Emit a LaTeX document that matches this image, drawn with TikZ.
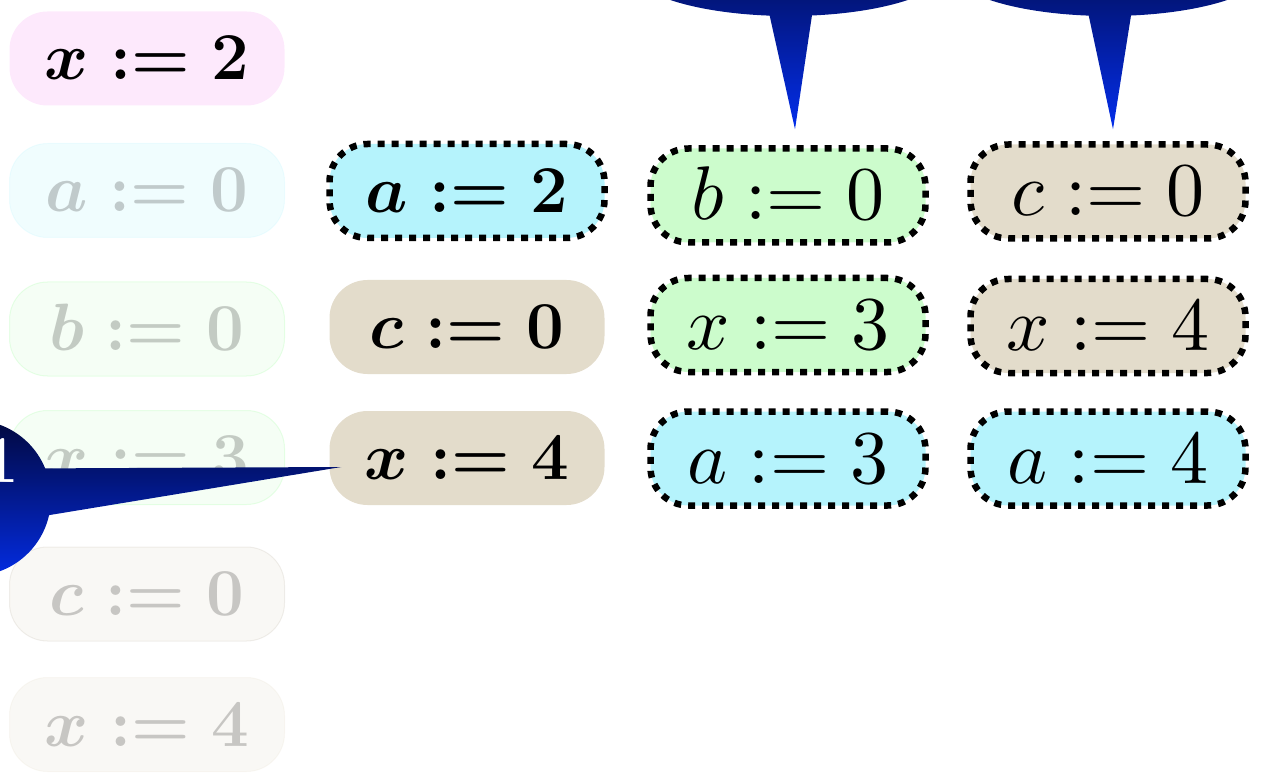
\documentclass[tikz,border=0pt]{standalone}
\usepackage{fix-cm}
\usepackage{graphicx}
\usetikzlibrary{shapes.callouts,calc}
\definecolor{cyanF}{RGB}{181,243,252}
\definecolor{greenF}{RGB}{204,252,204}
\definecolor{tanF}{RGB}{227,220,203}
\definecolor{pinkF}{RGB}{253,233,252}
\definecolor{calTop}{RGB}{2,6,52}
\definecolor{calBot}{RGB}{3,46,236}
\newcommand{\regtext}[1]{\scalebox{7.6}{\fontsize{10}{12}\selectfont$#1$}}
\tikzset{
  asg/.style={rounded corners=38pt, minimum width=275pt, minimum height=94pt,
    inner sep=0pt, text height=43pt, text depth=0pt,
    font=\fontsize{67}{80}\selectfont\boldmath},
  asgr/.style={asg, text height=49pt, font=\unboldmath},
  dottedbox/.style={draw=black, line width=6.5pt, dash pattern=on 7pt off 7pt},
  faded/.style={opacity=0.2, line width=1pt},
  fcyan/.style={fill=cyanF},
  fgreen/.style={fill=greenF},
  ftan/.style={fill=tanF},
  fpink/.style={fill=pinkF},
  bubble/.style={ellipse callout, inner sep=0pt, top color=calTop, bottom color=calBot, draw=none},
}
\begin{document}
\begin{tikzpicture}[x=1pt,y=-1pt]
\useasboundingbox (0,0) rectangle (1286,778);
% column 1
\node[asg, fpink] (n11) at (147,58.5) {$x := 2$};
\node[asg, fcyan, faded, draw=cyanF] (n12) at (147,190.5) {$a := 0$};
\node[asg, fgreen, faded, draw=greenF!70!green] (n13) at (147,329) {$b := 0$};
\node[asg, fgreen, faded, draw=greenF!70!green] (n14) at (147,457.5) {$x := 3$};
\node[asg, ftan, faded, draw=tanF!80!black] (n15) at (147,594) {$c := 0$};
\node[asg, ftan, faded, draw=tanF] (n16) at (147,724.5) {$x := 4$};
% column 2
\node[asg, fcyan, dottedbox] (n21) at (467,191) {$a := 2$};
\node[asg, ftan] (n22) at (467,327) {$c := 0$};
\node[asg, ftan] (n23) at (467,458) {$x := 4$};
% column 3
\node[asgr, fgreen, dottedbox] (n31) at (788,195.5) {\regtext{b := 0}};
\node[asgr, fgreen, dottedbox] (n32) at (788,325) {\regtext{x := 3}};
\node[asgr, fcyan, dottedbox] (n33) at (788,458.5) {\regtext{a := 3}};
% column 4
\node[asgr, ftan, dottedbox] (n41) at (1108,191.5) {\regtext{c := 0}};
\node[asgr, ftan, dottedbox] (n42) at (1108,326) {\regtext{x := 4}};
\node[asgr, fcyan, dottedbox] (n43) at (1108,458.5) {\regtext{a := 4}};
% callouts
\coordinate (tipA) at ($(n31.north)+(7,-16)$);
\coordinate (tipB) at ($(n41.north)+(5,-12)$);
\coordinate (tipL) at ($(n23.west)+(12,9)$);
\begin{scope}
\clip (0,0) rectangle (1286,778);
\node[bubble, minimum width=324pt, minimum height=100pt, callout pointer arc=15,
  callout absolute pointer={(tipA)}] (cA) at (789,-34) {};
\node[bubble, minimum width=324pt, minimum height=100pt, callout pointer arc=15,
  callout absolute pointer={(tipB)}] (cB) at (1108.5,-34) {};
\node[bubble, minimum width=156pt, minimum height=156pt, callout pointer arc=35,
  callout absolute pointer={(tipL)}] (cL) at (-27,498) {};
\node[anchor=base, text=white, inner sep=0pt, font=\fontsize{67}{80}\selectfont\bfseries] (lbl) at (0,482) {1};
\end{scope}
\end{tikzpicture}
\end{document}
